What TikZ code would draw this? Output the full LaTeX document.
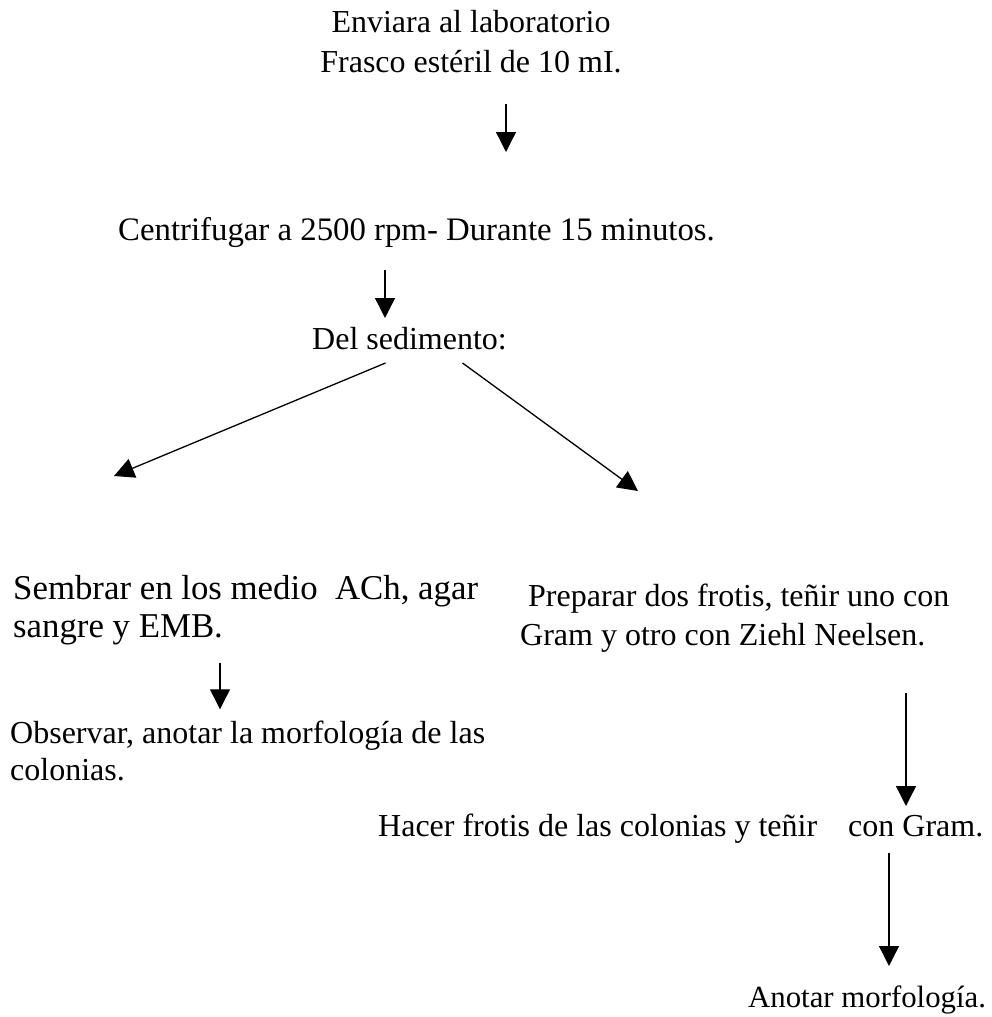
\documentclass[tikz,border=0pt]{standalone}
\usepackage{fontspec}
\setmainfont{Liberation Serif}
\usepackage{tikz}
\usetikzlibrary{calc, arrows.meta}

\begin{document}
\begin{tikzpicture}[
            x=1pt, y=-1pt,
            paso/.style={
                inner sep=0pt, anchor=base west, align=left,
                font=\fontsize{32}{38.5}\selectfont
            },
            flecha/.style={
                -{Triangle[length=20pt, width=20pt]},
                line width=1.3pt
            }
        ]

            \useasboundingbox (0,0) rectangle (992,1017);

            \node[paso, anchor=base, align=center, font=\fontsize{32}{40}\selectfont] (envio) at (471,72) {Enviara al laboratorio\\Frasco estéril de 10 mI.};
            \node[paso, font=\fontsize{32.8}{38.5}\selectfont] (centri) at (118,240) {Centrifugar a 2500 rpm- Durante 15 minutos.};
            \node[paso] (sedim) at (312,349) {Del sedimento:};
            \node[paso, font=\fontsize{34.8}{38}\selectfont] (sembrar) at (13,637) {Sembrar en los medio\ \ ACh, agar\\sangre y EMB.};
            \node[paso, font=\fontsize{32}{39}\selectfont] (preparar) at (520,645) {\hspace*{8pt}Preparar dos frotis, teñir uno con\\Gram y otro con Ziehl Neelsen.};
            \node[paso, font=\fontsize{32}{37}\selectfont] (observar) at (10,780) {Observar, anotar la morfología de las\\colonias.};
            \node[paso] (hacer) at (378,836) {Hacer frotis de las colonias y teñir};
            \node[paso] (gram) at (848,836) {con Gram.};
            \node[paso, font=\fontsize{30.8}{37}\selectfont] (anotar) at (748,1007) {Anotar morfología.};

            \coordinate (izq) at (114,476);
            \coordinate (der) at (638,491);

            \draw[flecha, shorten <=31pt, shorten >=88pt] (envio.south -| 506,0) -- (centri.base -| 506,0);
            \draw[flecha, shorten <=30pt, shorten >=31pt] (centri.base -| 385,0) -- (sedim.base -| 385,0);
            \draw[flecha] ($(sedim.base)+(-24,14)$) -- (izq);
            \draw[flecha] ($(sedim.base)+(53,14)$) -- (der);
            \draw[flecha, shorten <=18pt, shorten >=11pt] (sembrar.south -| 220,0) -- (observar.north -| 220,0);
            \draw[flecha, shorten <=41pt, shorten >=30pt] (preparar.south -| 906,0) -- (gram.base -| 906,0);
            \draw[flecha, shorten <=17pt, shorten >=41pt] (gram.base -| 889,0) -- (anotar.base -| 889,0);

        \end{tikzpicture}
\end{document}
